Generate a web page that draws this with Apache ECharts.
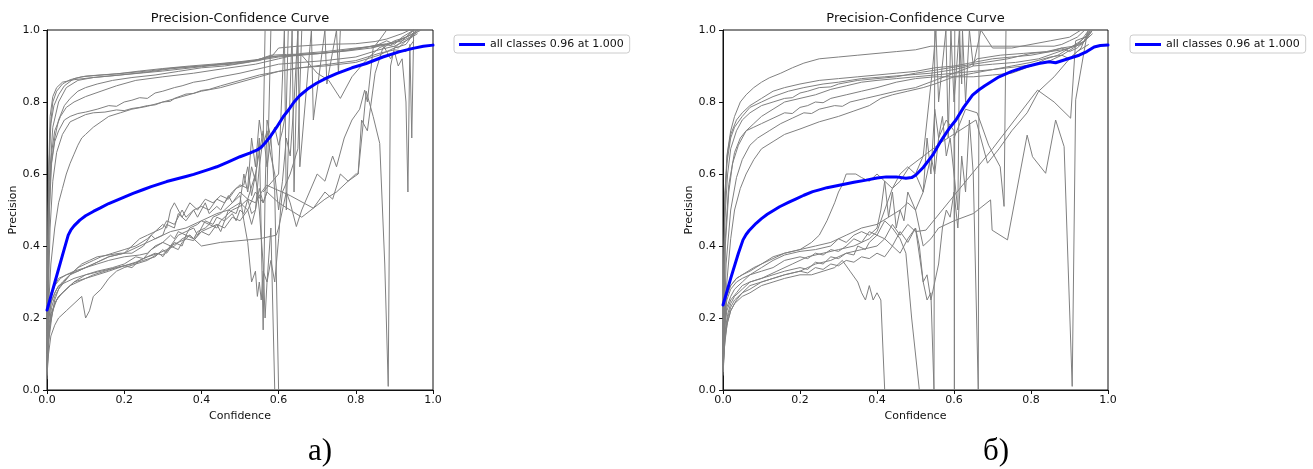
<!DOCTYPE html>
<html>
<head>
<meta charset="utf-8">
<script src="https://cdn.jsdelivr.net/npm/echarts@6/dist/echarts.min.js"></script>
<style>
html,body{margin:0;padding:0;background:#fff;}
#chart{width:1313px;height:469px;}
</style>
</head>
<body>
<div id="chart"></div>
<script>
// ---------- tick labels / texts ----------
const xTicks = [0, 0.2, 0.4, 0.6, 0.8, 1.0];
const yTicks = [0, 0.2, 0.4, 0.6, 0.8, 1.0];
const titleText = 'Precision-Confidence Curve';
const legendName = 'all classes 0.96 at 1.000';
const panelLabels = ['а)', 'б)'];

// ---------- panel A: all-classes curve ----------
const A_blue = [[0,0.222],[0.02,0.298],[0.04,0.374],[0.055,0.43],[0.062,0.445],[0.07,0.456],[0.085,0.472],[0.1,0.484],[0.12,0.496],[0.137,0.505],[0.16,0.518],[0.18,0.527],[0.2,0.536],[0.223,0.546],[0.25,0.557],[0.27,0.565],[0.29,0.572],[0.31,0.579],[0.335,0.586],[0.36,0.593],[0.38,0.599],[0.4,0.606],[0.42,0.613],[0.44,0.62],[0.47,0.634],[0.5,0.648],[0.525,0.658],[0.545,0.667],[0.555,0.674],[0.565,0.686],[0.577,0.702],[0.595,0.73],[0.612,0.759],[0.625,0.777],[0.64,0.8],[0.655,0.818],[0.675,0.836],[0.698,0.852],[0.725,0.867],[0.75,0.879],[0.79,0.895],[0.827,0.907],[0.87,0.925],[0.914,0.94],[0.948,0.949],[0.975,0.955],[1.0,0.958]];

// ---------- panel A: per-class curves ----------
const A_c1 = [[0,0.12],[0.004,0.55],[0.008,0.72],[0.015,0.8],[0.025,0.83],[0.04,0.85],[0.06,0.862],[0.09,0.87],[0.13,0.874],[0.18,0.878],[0.24,0.886],[0.3,0.893],[0.37,0.9],[0.44,0.906],[0.5,0.912],[0.56,0.92],[0.6,0.928],[0.66,0.93],[0.72,0.936],[0.78,0.945],[0.84,0.955],[0.88,0.962],[0.91,0.97],[0.94,0.985],[0.96,1.0]];
const A_c2 = [[0,0.2],[0.005,0.62],[0.01,0.74],[0.018,0.79],[0.03,0.82],[0.045,0.845],[0.07,0.865],[0.1,0.872],[0.15,0.876],[0.2,0.88],[0.27,0.887],[0.33,0.895],[0.4,0.9],[0.47,0.908],[0.54,0.915],[0.58,0.93],[0.62,0.932],[0.7,0.934],[0.76,0.94],[0.82,0.95],[0.86,0.96],[0.89,0.958],[0.92,0.975],[0.95,0.99],[0.97,1.0]];
const A_c3 = [[0,0.1],[0.005,0.45],[0.01,0.62],[0.02,0.7],[0.03,0.75],[0.045,0.79],[0.06,0.81],[0.08,0.83],[0.1,0.84],[0.13,0.85],[0.17,0.86],[0.22,0.868],[0.28,0.875],[0.34,0.885],[0.4,0.895],[0.46,0.9],[0.52,0.91],[0.57,0.925],[0.63,0.93],[0.7,0.935],[0.78,0.942],[0.84,0.95],[0.88,0.96],[0.91,0.95],[0.93,0.97],[0.96,0.99]];
const A_c4 = [[0,0.15],[0.006,0.5],[0.012,0.63],[0.02,0.69],[0.03,0.72],[0.045,0.75],[0.06,0.76],[0.08,0.768],[0.1,0.772],[0.13,0.78],[0.16,0.79],[0.18,0.788],[0.2,0.8],[0.22,0.805],[0.24,0.812],[0.26,0.81],[0.28,0.825],[0.3,0.83],[0.33,0.84],[0.35,0.845],[0.38,0.855],[0.41,0.86],[0.44,0.868],[0.5,0.88],[0.56,0.895],[0.6,0.905],[0.66,0.91],[0.72,0.915],[0.8,0.925],[0.86,0.945],[0.9,0.955],[0.93,0.97],[0.96,0.995]];
const A_c5 = [[0,0.1],[0.008,0.45],[0.015,0.58],[0.025,0.66],[0.04,0.71],[0.06,0.745],[0.08,0.755],[0.1,0.765],[0.12,0.77],[0.15,0.772],[0.18,0.778],[0.2,0.776],[0.22,0.782],[0.24,0.785],[0.26,0.79],[0.28,0.792],[0.3,0.8],[0.32,0.802],[0.33,0.81],[0.36,0.822],[0.38,0.824],[0.4,0.832],[0.42,0.835],[0.45,0.845],[0.5,0.86],[0.55,0.875],[0.6,0.885],[0.66,0.895],[0.73,0.905],[0.8,0.915],[0.86,0.935],[0.9,0.945],[0.93,0.94],[0.95,0.97]];
const A_c6 = [[0,0.06],[0.005,0.25],[0.01,0.35],[0.02,0.45],[0.03,0.52],[0.04,0.56],[0.05,0.6],[0.06,0.63],[0.07,0.655],[0.08,0.68],[0.09,0.7],[0.1,0.71],[0.12,0.73],[0.14,0.745],[0.16,0.76],[0.19,0.77],[0.22,0.78],[0.26,0.788],[0.3,0.8],[0.35,0.815],[0.4,0.83],[0.45,0.84],[0.5,0.855],[0.55,0.87],[0.6,0.885],[0.65,0.895],[0.72,0.9],[0.8,0.91],[0.86,0.93],[0.9,0.95],[0.93,0.96],[0.95,0.99]];
const A_c7 = [[0,0.18],[0.004,0.6],[0.008,0.76],[0.015,0.815],[0.025,0.84],[0.04,0.855],[0.07,0.862],[0.12,0.868],[0.18,0.874],[0.25,0.882],[0.32,0.892],[0.4,0.9],[0.48,0.905],[0.55,0.915],[0.585,0.93],[0.6,0.95],[0.65,0.955],[0.72,0.96],[0.8,0.962],[0.85,0.968],[0.88,0.975],[0.92,0.99],[0.94,1.0]];
const A_c8 = [[0,0.2],[0.006,0.55],[0.012,0.66],[0.02,0.72],[0.035,0.76],[0.05,0.785],[0.07,0.8],[0.1,0.815],[0.14,0.83],[0.18,0.845],[0.23,0.86],[0.3,0.87],[0.38,0.88],[0.46,0.893],[0.54,0.905],[0.6,0.92],[0.66,0.935],[0.72,0.94],[0.8,0.95],[0.85,0.955],[0.88,0.97],[0.9,0.96],[0.92,0.98],[0.95,1.0]];
const A_c9 = [[0,0.15],[0.006,0.58],[0.015,0.73],[0.03,0.8],[0.05,0.84],[0.08,0.86],[0.12,0.868],[0.2,0.876],[0.3,0.886],[0.4,0.898],[0.5,0.91],[0.56,0.918],[0.6,0.925],[0.66,0.93],[0.7,0.88],[0.73,0.86],[0.76,0.81],[0.79,0.87],[0.83,0.92],[0.86,0.95],[0.88,0.96],[0.9,0.965],[0.92,0.97],[0.94,0.98],[0.96,1.0]];
const A_c10 = [[0,0.03],[0.003,0.12],[0.008,0.18],[0.015,0.22],[0.025,0.25],[0.04,0.27],[0.06,0.29],[0.08,0.3],[0.1,0.31],[0.13,0.32],[0.16,0.33],[0.2,0.345],[0.22,0.34],[0.24,0.36],[0.26,0.37],[0.28,0.38],[0.3,0.375],[0.32,0.4],[0.34,0.41],[0.36,0.42],[0.38,0.415],[0.4,0.44],[0.42,0.45],[0.44,0.46],[0.45,0.44],[0.46,0.47],[0.48,0.49],[0.49,0.47],[0.5,0.5],[0.51,0.49],[0.52,0.53],[0.53,0.49],[0.54,0.5],[0.55,0.56],[0.56,0.52],[0.57,0.55],[0.58,1.0]];
const A_c11 = [[0,0.06],[0.004,0.15],[0.01,0.2],[0.02,0.24],[0.03,0.26],[0.05,0.28],[0.07,0.3],[0.1,0.32],[0.13,0.33],[0.17,0.34],[0.2,0.35],[0.23,0.37],[0.25,0.365],[0.27,0.39],[0.3,0.41],[0.32,0.4],[0.34,0.43],[0.36,0.44],[0.38,0.45],[0.39,0.43],[0.41,0.47],[0.43,0.46],[0.44,0.48],[0.46,0.47],[0.47,0.5],[0.49,0.49],[0.5,0.52],[0.52,0.5],[0.54,0.55],[0.56,0.52],[0.57,0.55],[0.6,0.52],[0.63,0.5],[0.66,0.48],[0.69,0.505],[0.72,0.53],[0.75,0.55],[0.78,0.58],[0.806,0.6],[0.82,0.75],[0.827,0.83],[0.845,0.76],[0.862,0.685],[0.875,0.35],[0.884,0.01],[0.89,0.9],[0.9,0.95],[0.92,0.97],[0.95,1.0]];
const A_c12 = [[0,0.08],[0.005,0.18],[0.012,0.23],[0.02,0.26],[0.035,0.29],[0.05,0.31],[0.07,0.33],[0.09,0.35],[0.11,0.36],[0.13,0.37],[0.16,0.375],[0.19,0.38],[0.22,0.38],[0.25,0.4],[0.27,0.43],[0.28,0.42],[0.3,0.43],[0.31,0.46],[0.33,0.45],[0.34,0.49],[0.36,0.47],[0.38,0.5],[0.39,0.48],[0.41,0.52],[0.42,0.49],[0.44,0.51],[0.45,0.5],[0.47,0.54],[0.48,0.52],[0.5,0.55],[0.52,0.53],[0.54,0.6],[0.55,0.5],[0.56,0.35],[0.565,0.2],[0.57,0.3],[0.58,0.45],[0.59,0.0]];
const A_c13 = [[0,0.1],[0.005,0.2],[0.012,0.25],[0.025,0.28],[0.04,0.3],[0.06,0.32],[0.08,0.34],[0.1,0.35],[0.12,0.36],[0.14,0.37],[0.17,0.38],[0.2,0.39],[0.23,0.4],[0.26,0.42],[0.28,0.44],[0.3,0.46],[0.31,0.45],[0.32,0.5],[0.33,0.52],[0.35,0.48],[0.37,0.52],[0.39,0.5],[0.41,0.53],[0.43,0.52],[0.45,0.54],[0.47,0.53],[0.49,0.56],[0.51,0.57],[0.52,0.62],[0.53,0.54],[0.55,0.66],[0.56,0.72],[0.57,0.62],[0.58,0.7],[0.59,0.55],[0.6,0.0]];
const A_c14 = [[0,0.04],[0.004,0.1],[0.01,0.15],[0.02,0.18],[0.03,0.2],[0.05,0.22],[0.07,0.24],[0.09,0.26],[0.1,0.2],[0.11,0.22],[0.12,0.26],[0.14,0.28],[0.16,0.31],[0.18,0.33],[0.2,0.34],[0.23,0.35],[0.26,0.36],[0.29,0.38],[0.3,0.37],[0.32,0.4],[0.34,0.39],[0.35,0.41],[0.37,0.43],[0.38,0.42],[0.4,0.44],[0.42,0.43],[0.44,0.46],[0.46,0.45],[0.48,0.48],[0.5,0.47],[0.52,0.5],[0.53,0.46],[0.54,0.5],[0.55,0.62],[0.56,0.7],[0.565,1.0]];
const A_c15 = [[0,0.05],[0.005,0.14],[0.012,0.2],[0.02,0.25],[0.03,0.28],[0.045,0.3],[0.06,0.32],[0.08,0.33],[0.1,0.34],[0.13,0.35],[0.16,0.36],[0.2,0.37],[0.24,0.375],[0.26,0.38],[0.28,0.4],[0.3,0.41],[0.32,0.43],[0.33,0.42],[0.34,0.44],[0.36,0.43],[0.37,0.45],[0.39,0.46],[0.4,0.47],[0.42,0.46],[0.43,0.48],[0.45,0.49],[0.46,0.5],[0.48,0.52],[0.5,0.54],[0.51,0.47],[0.52,0.41],[0.53,0.3],[0.54,0.33],[0.545,0.26],[0.55,0.3],[0.555,0.25],[0.56,0.33],[0.57,0.3],[0.58,0.36],[0.59,0.3],[0.6,0.42],[0.605,0.5],[0.61,0.55],[0.63,0.6],[0.65,0.67],[0.66,1.0]];
const A_c16 = [[0,0.12],[0.005,0.22],[0.01,0.26],[0.02,0.29],[0.035,0.31],[0.05,0.32],[0.07,0.33],[0.1,0.34],[0.13,0.355],[0.16,0.37],[0.2,0.38],[0.22,0.4],[0.24,0.42],[0.26,0.43],[0.28,0.44],[0.3,0.45],[0.31,0.47],[0.33,0.46],[0.35,0.5],[0.36,0.48],[0.38,0.5],[0.4,0.51],[0.42,0.5],[0.44,0.53],[0.46,0.52],[0.48,0.55],[0.5,0.57],[0.52,0.56],[0.53,0.7],[0.54,0.62],[0.55,0.75],[0.56,0.68],[0.57,0.72],[0.58,0.65],[0.59,0.6],[0.6,0.5],[0.61,0.58],[0.62,0.7],[0.63,0.65],[0.64,0.8],[0.65,1.0]];
const A_c17 = [[0,0.07],[0.005,0.16],[0.01,0.21],[0.02,0.24],[0.03,0.26],[0.05,0.28],[0.07,0.3],[0.1,0.31],[0.12,0.32],[0.15,0.33],[0.18,0.34],[0.2,0.345],[0.23,0.355],[0.26,0.37],[0.29,0.38],[0.31,0.39],[0.33,0.4],[0.35,0.42],[0.37,0.43],[0.4,0.4],[0.45,0.41],[0.5,0.415],[0.55,0.42],[0.594,0.43],[0.6,0.45],[0.61,0.5],[0.62,0.55],[0.63,0.52],[0.646,0.454],[0.66,0.5],[0.68,0.55],[0.7,0.6],[0.72,0.58],[0.74,0.65],[0.75,0.62],[0.77,0.7],[0.79,0.75],[0.81,0.78],[0.823,0.833],[0.83,0.8],[0.845,0.95],[0.86,0.97],[0.88,1.0]];
const A_c18 = [[0,0.09],[0.005,0.2],[0.01,0.24],[0.02,0.27],[0.03,0.29],[0.05,0.3],[0.07,0.31],[0.1,0.32],[0.14,0.33],[0.18,0.34],[0.22,0.35],[0.25,0.36],[0.28,0.37],[0.3,0.39],[0.31,0.38],[0.33,0.41],[0.35,0.4],[0.36,0.43],[0.38,0.42],[0.39,0.44],[0.41,0.45],[0.42,0.46],[0.44,0.45],[0.45,0.47],[0.47,0.49],[0.48,0.5],[0.5,0.51],[0.52,0.53],[0.54,0.52],[0.556,0.55],[0.569,0.569],[0.63,0.54],[0.69,0.505],[0.72,0.55],[0.74,0.53],[0.76,0.6],[0.78,0.58],[0.8,0.6],[0.806,0.6],[0.815,0.75],[0.83,0.72],[0.85,0.88],[0.87,0.95],[0.9,0.97],[0.93,0.98],[0.95,1.0]];
const A_c19 = [[0,0.15],[0.005,0.24],[0.01,0.27],[0.02,0.29],[0.03,0.31],[0.05,0.32],[0.08,0.33],[0.12,0.35],[0.16,0.37],[0.2,0.38],[0.24,0.4],[0.28,0.42],[0.32,0.44],[0.36,0.45],[0.4,0.47],[0.44,0.49],[0.47,0.5],[0.5,0.52],[0.51,0.6],[0.52,0.55],[0.53,0.62],[0.54,0.58],[0.55,0.7],[0.56,0.167],[0.565,0.55],[0.57,0.75],[0.58,0.7],[0.59,0.73],[0.6,0.68],[0.61,0.72],[0.62,0.78],[0.625,1.0]];
const A_c20 = [[0.56,0.55],[0.6,0.6],[0.615,1.0],[0.62,0.5],[0.635,1.0],[0.64,0.55],[0.65,1.0],[0.655,0.62],[0.685,1.0],[0.69,0.75],[0.72,1.0],[0.725,0.85],[0.75,1.0],[0.755,0.88],[0.76,1.0]];
const A_c21 = [[0.84,0.95],[0.87,0.96],[0.89,0.92],[0.9,0.94],[0.91,0.9],[0.92,0.92],[0.93,0.8],[0.935,0.55],[0.94,0.96],[0.945,0.7],[0.95,1.0]];

// ---------- panel B: all-classes curve ----------
const B_blue = [[0,0.236],[0.02,0.31],[0.04,0.38],[0.052,0.417],[0.06,0.432],[0.068,0.443],[0.086,0.463],[0.1,0.476],[0.115,0.488],[0.13,0.498],[0.147,0.509],[0.17,0.521],[0.19,0.531],[0.21,0.541],[0.233,0.551],[0.25,0.556],[0.27,0.562],[0.302,0.569],[0.34,0.577],[0.372,0.583],[0.4,0.589],[0.424,0.592],[0.45,0.592],[0.475,0.588],[0.49,0.59],[0.501,0.597],[0.52,0.618],[0.545,0.653],[0.565,0.69],[0.579,0.713],[0.59,0.73],[0.605,0.75],[0.625,0.785],[0.648,0.819],[0.665,0.834],[0.68,0.845],[0.717,0.87],[0.75,0.885],[0.786,0.898],[0.82,0.907],[0.847,0.912],[0.864,0.909],[0.89,0.918],[0.925,0.93],[0.945,0.94],[0.964,0.953],[0.98,0.957],[1.0,0.958]];

// ---------- panel B: per-class curves ----------
const B_c1 = [[0,0.1],[0.004,0.5],[0.01,0.65],[0.02,0.72],[0.03,0.76],[0.045,0.8],[0.06,0.82],[0.08,0.84],[0.1,0.855],[0.12,0.867],[0.15,0.88],[0.18,0.895],[0.21,0.908],[0.25,0.92],[0.3,0.925],[0.35,0.93],[0.4,0.935],[0.45,0.94],[0.5,0.945],[0.54,0.955],[0.6,0.955],[0.7,0.955],[0.8,0.955],[0.86,0.955],[0.88,0.96],[0.9,0.97],[0.92,0.98],[0.94,1.0]];
const B_c2 = [[0,0.15],[0.005,0.55],[0.012,0.66],[0.02,0.71],[0.035,0.75],[0.05,0.77],[0.07,0.79],[0.1,0.81],[0.13,0.83],[0.16,0.84],[0.2,0.85],[0.25,0.86],[0.3,0.865],[0.35,0.87],[0.4,0.875],[0.45,0.88],[0.5,0.885],[0.55,0.895],[0.6,0.9],[0.65,0.91],[0.7,0.92],[0.75,0.925],[0.8,0.93],[0.85,0.94],[0.88,0.945],[0.9,0.95],[0.92,0.96],[0.95,0.99]];
const B_c3 = [[0,0.12],[0.005,0.48],[0.012,0.6],[0.02,0.67],[0.035,0.72],[0.05,0.75],[0.07,0.77],[0.1,0.79],[0.13,0.8],[0.16,0.81],[0.18,0.812],[0.2,0.825],[0.22,0.83],[0.25,0.84],[0.28,0.842],[0.3,0.85],[0.35,0.86],[0.4,0.865],[0.45,0.87],[0.5,0.88],[0.56,0.89],[0.62,0.9],[0.68,0.91],[0.74,0.92],[0.8,0.935],[0.85,0.94],[0.88,0.95],[0.91,0.955],[0.94,0.97],[0.96,1.0]];
const B_c4 = [[0,0.08],[0.006,0.4],[0.015,0.55],[0.025,0.63],[0.04,0.68],[0.06,0.72],[0.08,0.74],[0.1,0.76],[0.13,0.78],[0.16,0.8],[0.2,0.81],[0.24,0.82],[0.28,0.835],[0.32,0.845],[0.36,0.855],[0.4,0.86],[0.45,0.865],[0.5,0.87],[0.55,0.875],[0.6,0.88],[0.65,0.885],[0.7,0.89],[0.75,0.9],[0.8,0.91],[0.85,0.925],[0.88,0.93],[0.9,0.92],[0.92,0.94],[0.95,0.96]];
const B_c5 = [[0,0.1],[0.006,0.42],[0.015,0.57],[0.03,0.66],[0.045,0.7],[0.06,0.72],[0.08,0.73],[0.1,0.74],[0.13,0.755],[0.16,0.77],[0.18,0.768],[0.2,0.785],[0.22,0.79],[0.24,0.8],[0.26,0.798],[0.28,0.81],[0.32,0.82],[0.36,0.83],[0.4,0.84],[0.45,0.855],[0.5,0.865],[0.55,0.87],[0.6,0.87],[0.65,0.87],[0.7,0.875],[0.75,0.88],[0.8,0.9],[0.84,0.92],[0.87,0.93],[0.9,0.95],[0.93,0.96],[0.96,0.99]];
const B_c6 = [[0,0.06],[0.008,0.35],[0.02,0.5],[0.035,0.59],[0.05,0.64],[0.07,0.68],[0.09,0.7],[0.12,0.72],[0.15,0.74],[0.18,0.755],[0.21,0.77],[0.23,0.768],[0.25,0.78],[0.27,0.785],[0.29,0.79],[0.31,0.788],[0.33,0.8],[0.37,0.81],[0.41,0.82],[0.45,0.83],[0.5,0.84],[0.55,0.86],[0.6,0.88],[0.65,0.9],[0.7,0.905],[0.76,0.91],[0.82,0.92],[0.86,0.935],[0.9,0.95],[0.93,0.97],[0.95,1.0]];
const B_c7 = [[0,0.05],[0.01,0.3],[0.02,0.42],[0.03,0.5],[0.045,0.56],[0.06,0.6],[0.08,0.64],[0.1,0.67],[0.13,0.69],[0.16,0.71],[0.2,0.725],[0.25,0.745],[0.3,0.76],[0.34,0.775],[0.38,0.79],[0.41,0.81],[0.44,0.82],[0.48,0.83],[0.52,0.84],[0.55,0.85],[0.6,0.87],[0.65,0.88],[0.7,0.89],[0.78,0.9],[0.84,0.91],[0.88,0.93],[0.91,0.95],[0.94,0.97],[0.96,1.0]];
const B_c8 = [[0,0.14],[0.005,0.52],[0.01,0.63],[0.02,0.7],[0.03,0.73],[0.05,0.76],[0.07,0.785],[0.1,0.8],[0.13,0.815],[0.17,0.83],[0.21,0.84],[0.26,0.85],[0.3,0.855],[0.36,0.865],[0.42,0.87],[0.48,0.875],[0.54,0.88],[0.6,0.89],[0.64,0.9],[0.66,0.92],[0.72,0.93],[0.78,0.935],[0.84,0.94],[0.88,0.95],[0.9,0.94],[0.92,0.95],[0.94,0.97],[0.955,1.0]];
const B_c9 = [[0,0.04],[0.004,0.12],[0.01,0.18],[0.02,0.22],[0.035,0.25],[0.05,0.27],[0.07,0.29],[0.1,0.3],[0.13,0.31],[0.16,0.32],[0.2,0.33],[0.22,0.325],[0.24,0.34],[0.26,0.335],[0.28,0.35],[0.3,0.345],[0.32,0.36],[0.34,0.355],[0.36,0.37],[0.38,0.365],[0.4,0.38],[0.42,0.37],[0.44,0.4],[0.46,0.38],[0.48,0.42],[0.5,0.45],[0.52,0.3],[0.53,0.25],[0.54,0.27],[0.548,0.0],[0.55,1.0]];
const B_c10 = [[0,0.07],[0.005,0.16],[0.012,0.21],[0.02,0.24],[0.03,0.26],[0.05,0.28],[0.07,0.3],[0.1,0.31],[0.13,0.32],[0.16,0.33],[0.2,0.34],[0.22,0.335],[0.24,0.355],[0.26,0.35],[0.28,0.37],[0.3,0.365],[0.32,0.38],[0.34,0.375],[0.35,0.4],[0.37,0.39],[0.38,0.41],[0.4,0.43],[0.42,0.42],[0.44,0.46],[0.46,0.43],[0.48,0.46],[0.5,0.44],[0.527,0.444],[0.6,0.54],[0.7,0.67],[0.817,0.833],[0.86,0.8],[0.903,0.755],[0.916,0.97],[0.94,0.98],[0.96,1.0]];
const B_c11 = [[0,0.12],[0.005,0.22],[0.01,0.26],[0.02,0.29],[0.035,0.31],[0.05,0.32],[0.07,0.33],[0.1,0.35],[0.13,0.37],[0.16,0.38],[0.2,0.39],[0.23,0.41],[0.25,0.43],[0.27,0.47],[0.29,0.52],[0.3,0.55],[0.31,0.57],[0.32,0.6],[0.345,0.6],[0.36,0.59],[0.38,0.58],[0.4,0.6],[0.42,0.58],[0.44,0.56],[0.46,0.6],[0.48,0.62],[0.5,0.6],[0.52,0.55],[0.54,0.65],[0.55,0.6],[0.56,0.7],[0.58,0.75],[0.6,0.72],[0.601,0.0],[0.602,1.0]];
const B_c12 = [[0,0.05],[0.005,0.14],[0.012,0.19],[0.02,0.22],[0.03,0.24],[0.05,0.26],[0.07,0.27],[0.1,0.29],[0.13,0.3],[0.16,0.31],[0.2,0.32],[0.23,0.32],[0.26,0.33],[0.29,0.34],[0.31,0.36],[0.33,0.33],[0.35,0.3],[0.36,0.27],[0.37,0.25],[0.38,0.29],[0.39,0.25],[0.4,0.27],[0.41,0.25],[0.42,0.0]];
const B_c13 = [[0,0.09],[0.005,0.19],[0.01,0.23],[0.02,0.26],[0.03,0.28],[0.05,0.3],[0.07,0.32],[0.1,0.33],[0.13,0.34],[0.16,0.36],[0.2,0.37],[0.22,0.365],[0.24,0.38],[0.26,0.375],[0.28,0.39],[0.3,0.385],[0.32,0.4],[0.34,0.42],[0.36,0.41],[0.38,0.44],[0.4,0.43],[0.42,0.47],[0.44,0.45],[0.46,0.42],[0.475,0.38],[0.49,0.2],[0.51,0.0]];
const B_c14 = [[0,0.1],[0.005,0.2],[0.01,0.25],[0.02,0.28],[0.035,0.3],[0.05,0.31],[0.07,0.32],[0.1,0.34],[0.13,0.36],[0.16,0.375],[0.2,0.385],[0.24,0.39],[0.28,0.4],[0.3,0.42],[0.32,0.41],[0.34,0.43],[0.36,0.44],[0.38,0.43],[0.4,0.45],[0.41,0.5],[0.42,0.58],[0.43,0.48],[0.44,0.55],[0.45,0.45],[0.46,0.5],[0.47,0.47],[0.48,0.55],[0.5,0.5],[0.52,0.55],[0.53,0.7],[0.54,0.6],[0.55,0.78],[0.56,0.7],[0.57,0.76],[0.58,0.65],[0.59,0.7],[0.6,0.6],[0.61,0.5],[0.615,1.0]];
const B_c15 = [[0,0.06],[0.005,0.15],[0.012,0.2],[0.02,0.23],[0.03,0.25],[0.05,0.27],[0.07,0.28],[0.1,0.3],[0.13,0.31],[0.16,0.32],[0.2,0.33],[0.24,0.35],[0.28,0.36],[0.32,0.38],[0.36,0.39],[0.4,0.4],[0.42,0.42],[0.44,0.4],[0.46,0.44],[0.48,0.41],[0.5,0.45],[0.51,0.4],[0.52,0.3],[0.53,0.32],[0.54,0.25],[0.55,0.3],[0.56,0.35],[0.57,0.45],[0.58,0.5],[0.59,0.48],[0.6,0.55],[0.61,0.45],[0.62,0.65],[0.63,0.55],[0.64,0.75],[0.65,0.6],[0.663,0.0],[0.665,1.0]];
const B_c16 = [[0,0.15],[0.005,0.24],[0.01,0.27],[0.02,0.29],[0.035,0.31],[0.05,0.32],[0.08,0.34],[0.12,0.36],[0.16,0.38],[0.2,0.39],[0.24,0.4],[0.28,0.41],[0.32,0.43],[0.36,0.45],[0.4,0.46],[0.43,0.48],[0.46,0.5],[0.48,0.52],[0.5,0.5],[0.52,0.4],[0.54,0.42],[0.56,0.45],[0.6,0.47],[0.65,0.49],[0.695,0.528],[0.699,0.444],[0.739,0.417],[0.79,0.708],[0.804,0.648],[0.838,0.602],[0.864,0.75],[0.886,0.676],[0.907,0.01],[0.916,0.806],[0.946,0.99],[0.955,1.0]];
const B_c17 = [[0,0.08],[0.005,0.18],[0.01,0.22],[0.02,0.25],[0.035,0.27],[0.05,0.29],[0.07,0.3],[0.1,0.31],[0.14,0.33],[0.18,0.35],[0.22,0.37],[0.26,0.38],[0.3,0.39],[0.34,0.4],[0.38,0.42],[0.4,0.44],[0.42,0.5],[0.44,0.56],[0.46,0.58],[0.484,0.62],[0.57,0.69],[0.657,0.75],[0.687,0.63],[0.717,0.67],[0.75,0.72],[0.79,0.77],[0.82,0.83],[0.86,0.87],[0.9,0.92],[0.93,0.95],[0.95,1.0]];
const B_c18 = [[0.5,0.6],[0.52,0.65],[0.545,0.9],[0.553,1.0],[0.56,0.8],[0.579,1.0],[0.585,0.7],[0.592,1.0],[0.6,0.8],[0.614,1.0],[0.62,0.85],[0.622,1.0],[0.63,0.8],[0.64,1.0],[0.65,0.9],[0.67,1.0],[0.7,0.95],[0.75,0.95],[0.8,0.96],[0.85,0.97],[0.9,0.98],[0.93,1.0]];
const B_c19 = [[0.6,0.7],[0.63,0.78],[0.66,0.77],[0.69,0.68],[0.72,0.62],[0.73,0.51],[0.735,1.0]];

const A_classes = [A_c1,A_c2,A_c3,A_c4,A_c5,A_c6,A_c7,A_c8,A_c9,A_c10,A_c11,A_c12,A_c13,A_c14,A_c15,A_c16,A_c17,A_c18,A_c19,A_c20,A_c21];
const B_classes = [B_c1,B_c2,B_c3,B_c4,B_c5,B_c6,B_c7,B_c8,B_c9,B_c10,B_c11,B_c12,B_c13,B_c14,B_c15,B_c16,B_c17,B_c18,B_c19];

// ---------- chart ----------
const FONT = '"DejaVu Sans", sans-serif';
const grids = [
  {left: 47, top: 30, width: 386, height: 360},
  {left: 723, top: 30, width: 385, height: 360}
];

function xAxisFor(i) {
  return {
    gridIndex: i, type: 'value', min: xTicks[0], max: xTicks[xTicks.length - 1], interval: 0.2,
    name: 'Confidence', nameLocation: 'middle', nameGap: 19,
    nameTextStyle: {fontFamily: FONT, fontSize: 11, color: '#111'},
    axisLine: {show: true, lineStyle: {color: '#111', width: 1}},
    axisTick: {show: true, inside: false, length: 4, lineStyle: {color: '#111'}},
    axisLabel: {fontFamily: FONT, fontSize: 11, color: '#111', margin: 5,
      formatter: v => v.toFixed(1)},
    splitLine: {show: false}
  };
}
function yAxisFor(i) {
  return {
    gridIndex: i, type: 'value', min: yTicks[0], max: yTicks[yTicks.length - 1], interval: 0.2,
    name: 'Precision', nameLocation: 'middle', nameGap: 28, nameRotate: 90,
    nameTextStyle: {fontFamily: FONT, fontSize: 11, color: '#111'},
    axisLine: {show: true, lineStyle: {color: '#111', width: 1}},
    axisTick: {show: true, inside: false, length: 4, lineStyle: {color: '#111'}},
    axisLabel: {fontFamily: FONT, fontSize: 11, color: '#111', margin: 7,
      formatter: v => v.toFixed(1)},
    splitLine: {show: false}
  };
}

const series = [];
A_classes.forEach((d, k) => series.push({
  name: 'A class ' + (k + 1), type: 'line', xAxisIndex: 0, yAxisIndex: 0, data: d,
  symbol: 'none', showSymbol: false, silent: true, z: 2,
  lineStyle: {color: '#808080', width: 1}, itemStyle: {color: '#808080'}
}));
B_classes.forEach((d, k) => series.push({
  name: 'B class ' + (k + 1), type: 'line', xAxisIndex: 1, yAxisIndex: 1, data: d,
  symbol: 'none', showSymbol: false, silent: true, z: 2,
  lineStyle: {color: '#808080', width: 1}, itemStyle: {color: '#808080'}
}));
[A_blue, B_blue].forEach((d, i) => series.push({
  name: legendName, type: 'line', xAxisIndex: i, yAxisIndex: i, data: d,
  symbol: 'none', showSymbol: false, smooth: false, z: 5,
  lineStyle: {color: '#0000ff', width: 3, join: 'round', cap: 'round'}, itemStyle: {color: '#0000ff'}
}));

function legendAt(left) {
  return {
    data: [legendName], left: left, top: 35, orient: 'vertical',
    icon: 'rect', itemWidth: 26, itemHeight: 3,
    padding: [4, 6, 3, 5], borderColor: '#cccccc', borderWidth: 1, borderRadius: 3,
    backgroundColor: '#fff',
    textStyle: {fontFamily: FONT, fontSize: 11, color: '#111'},
    selectedMode: false
  };
}

const chart = echarts.init(document.getElementById('chart'), null, {renderer: 'canvas'});
chart.setOption({
  animation: false,
  backgroundColor: '#ffffff',
  grid: grids.map(g => Object.assign({show: true, borderColor: '#111', borderWidth: 1, backgroundColor: 'transparent'}, g)),
  xAxis: [xAxisFor(0), xAxisFor(1)],
  yAxis: [yAxisFor(0), yAxisFor(1)],
  legend: [legendAt(454), legendAt(1130)],
  graphic: [
    {type: 'text', x: 240, y: 12, style: {text: titleText, font: '13px ' + FONT, fill: '#111', align: 'center', verticalAlign: 'top'}},
    {type: 'text', x: 915.5, y: 12, style: {text: titleText, font: '13px ' + FONT, fill: '#111', align: 'center', verticalAlign: 'top'}},
    {type: 'text', x: 320, y: 467, style: {text: panelLabels[0], font: '31px "Liberation Serif", "Times New Roman", serif', fill: '#000', align: 'center', verticalAlign: 'bottom'}},
    {type: 'text', x: 996, y: 467, style: {text: panelLabels[1], font: '31px "Liberation Serif", "Times New Roman", serif', fill: '#000', align: 'center', verticalAlign: 'bottom'}}
  ],
  series: series
});
</script>
</body>
</html>
